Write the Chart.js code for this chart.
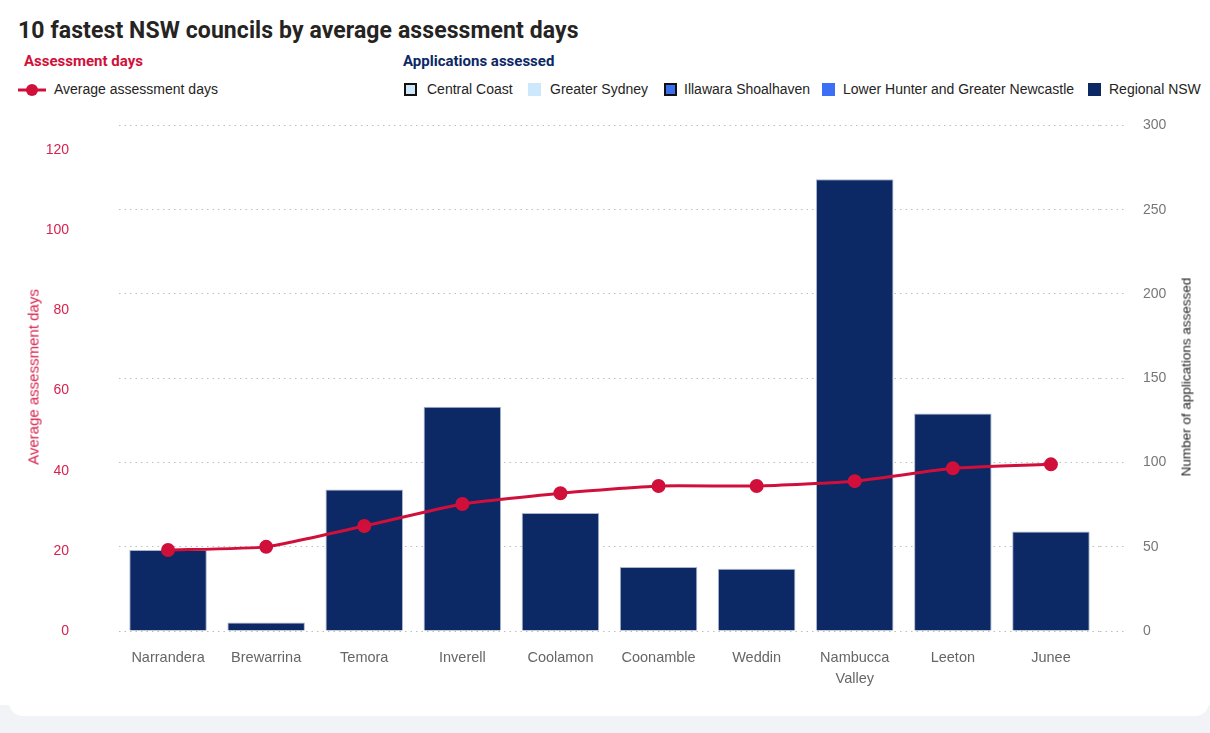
<!DOCTYPE html>
<html lang="en">
<head>
  <meta charset="UTF-8">
  <title>10 fastest NSW councils by average assessment days</title>
  <script src="https://cdn.jsdelivr.net/npm/chart.js@4.4.1/dist/chart.umd.min.js"></script>
  <style>
    body {
      margin: 0;
      width: 1210px;
      height: 733px;
      overflow: hidden;
      position: relative;
      background: #fff;
      font-family: "Liberation Sans", Arial, sans-serif;
    }
    .band { position: absolute; left: 0; top: 705px; width: 1210px; height: 28px; background: #f2f3f6; }
    .card { position: absolute; left: 9px; top: -20px; width: 1200px; height: 736px; background: #fff; border-radius: 0 0 14px 14px; }
    h1 {
      position: absolute; left: 18px; top: 17px; margin: 0;
      font: 700 23px Roboto, sans-serif; color: #252423; letter-spacing: 0.1px;
    }
    .group { position: absolute; top: 52px; font: 700 15px Roboto, sans-serif; }
    .item { position: absolute; top: 81px; font-size: 14px; color: #252423; white-space: nowrap; }
    .swatch { position: absolute; top: 83px; width: 13px; height: 13px; box-sizing: border-box; }
    .axis-title { position: absolute; white-space: nowrap; transform: translate(-50%, -50%) rotate(-90deg); }
    #chart { position: absolute; left: 0; top: 75px; }
  </style>
</head>
<body>
  <div class="band"></div>
  <div class="card"></div>

  <h1>10 fastest NSW councils by average assessment days</h1>

  <!-- legend: line series -->
  <div class="group" style="left:24px; color:#d0103a;">Assessment days</div>
  <svg style="position:absolute; left:18px; top:82px;" width="30" height="16">
    <line x1="0" y1="8" x2="28" y2="8" stroke="#d0103a" stroke-width="3"/>
    <circle cx="14" cy="8" r="6" fill="#d0103a"/>
  </svg>
  <div class="item" style="left:54px;">Average assessment days</div>

  <!-- legend: bar series -->
  <div class="group" style="left:403px; color:#0c2865;">Applications assessed</div>
  <div class="swatch" style="left:404px; background:#cfe6fb; border:2px solid #111;"></div>
  <div class="item" style="left:427px;">Central Coast</div>
  <div class="swatch" style="left:528px; background:#cde8fb;"></div>
  <div class="item" style="left:550px;">Greater Sydney</div>
  <div class="swatch" style="left:664px; background:#3a6ff0; border:2px solid #111;"></div>
  <div class="item" style="left:684px;">Illawara Shoalhaven</div>
  <div class="swatch" style="left:822px; background:#3a6ff6;"></div>
  <div class="item" style="left:843px;">Lower Hunter and Greater Newcastle</div>
  <div class="swatch" style="left:1088px; background:#0c2865;"></div>
  <div class="item" style="left:1109px;">Regional NSW</div>

  <canvas id="chart" width="1210" height="625"></canvas>

  <div class="axis-title" style="left:33px; top:377px; font-size:15px; color:#d6234d;">Average assessment days</div>
  <div class="axis-title" style="left:1186px; top:377px; font-size:13.5px; color:#252423;">Number of applications assessed</div>

  <script>
    const councils = ["Narrandera", "Brewarrina", "Temora", "Inverell", "Coolamon",
                      "Coonamble", "Weddin", ["Nambucca", "Valley"], "Leeton", "Junee"];
    const avgDays = [20.2, 21.0, 26.2, 31.7, 34.4, 36.2, 36.2, 37.4, 40.6, 41.6];
    const applications = [48, 5, 84, 133, 70, 38, 37, 268, 129, 59];
    const dayTicks = [0, 20, 40, 60, 80, 100, 120];
    const appTicks = [0, 50, 100, 150, 200, 250, 300];

    const crimson = "#d0103a";
    const navy = "#0c2865";
    const gridGrey = "#bdbdbd";

    new Chart(document.getElementById("chart"), {
      data: {
        labels: councils,
        datasets: [
          {
            type: "line",
            label: "Average assessment days",
            data: avgDays,
            yAxisID: "days",
            borderColor: crimson,
            backgroundColor: crimson,
            borderWidth: 3,
            pointRadius: 5.5,
            pointBackgroundColor: crimson,
            tension: 0.15,
            order: 0
          },
          {
            type: "bar",
            label: "Regional NSW",
            data: applications,
            yAxisID: "apps",
            backgroundColor: navy,
            borderColor: "#aab4cc",
            borderWidth: 1,
            barPercentage: 0.79,
            categoryPercentage: 1,
            order: 1
          }
        ]
      },
      options: {
        responsive: false,
        animation: false,
        layout: { padding: 0 },
        plugins: { legend: { display: false }, tooltip: { enabled: false } },
        scales: {
          x: {
            grid: { display: false },
            border: { display: false },
            ticks: {
              color: "#666",
              font: { family: "Liberation Sans", size: 14.5, lineHeight: 1.45 },
              padding: 8,
              maxRotation: 0,
              autoSkip: false
            },
            afterFit: s => { s.height = 69; }
          },
          days: {
            position: "left",
            min: 0,
            max: 126.2,
            grid: { display: false },
            border: { display: false },
            afterBuildTicks: s => { s.ticks = dayTicks.map(v => ({ value: v })); },
            ticks: {
              color: "#d6234d",
              font: { family: "Liberation Sans", size: 14 },
              padding: 42
            },
            afterFit: s => { s.width = 119; }
          },
          apps: {
            position: "right",
            min: 0,
            max: 300,
            grid: {
              color: gridGrey,
              lineWidth: 1,
              tickLength: 24,
              tickColor: gridGrey,
              tickBorderDash: [1.5, 4]
            },
            border: { display: false, dash: [1.5, 4] },
            afterBuildTicks: s => { s.ticks = appTicks.map(v => ({ value: v })); },
            ticks: {
              color: "#777",
              font: { family: "Liberation Sans", size: 14 },
              padding: 19
            },
            afterFit: s => { s.width = 110; }
          }
        }
      }
    });
  </script>
</body>
</html>
